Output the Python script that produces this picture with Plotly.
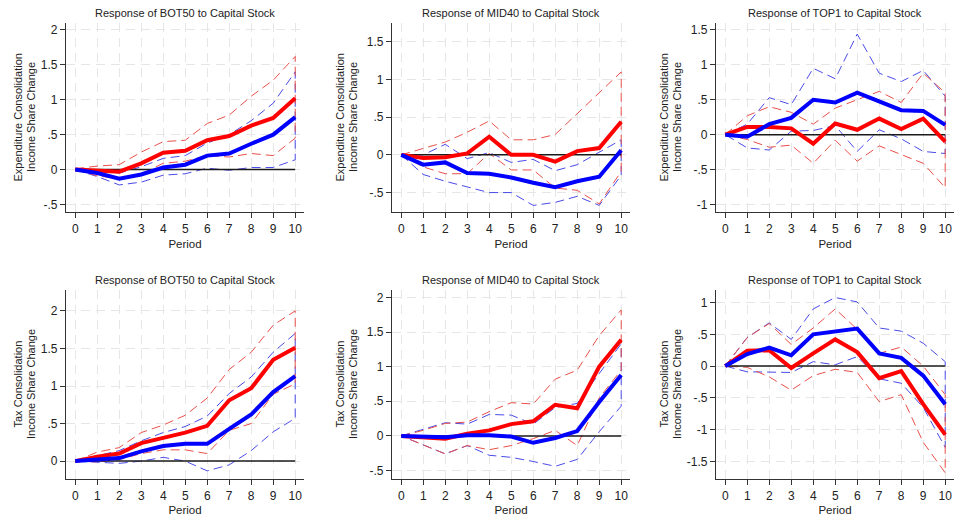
import plotly.graph_objects as go

W, H = 955, 516

periods = list(range(11))
xtick_labels = [str(p) for p in periods]

# ---- Expenditure consolidation ----
exp_bot50_red = [0, -0.02, -0.03, 0.09, 0.24, 0.27, 0.42, 0.48, 0.63, 0.74, 1.02]
exp_bot50_red_hi = [0.01, 0.05, 0.07, 0.25, 0.40, 0.42, 0.66, 0.78, 1.05, 1.28, 1.62]
exp_bot50_red_lo = [0, -0.09, -0.13, -0.06, 0.09, 0.12, 0.20, 0.18, 0.23, 0.20, 0.45]
exp_bot50_blue = [0, -0.05, -0.13, -0.07, 0.03, 0.07, 0.20, 0.23, 0.37, 0.50, 0.75]
exp_bot50_blue_hi = [0, -0.02, -0.05, 0.04, 0.16, 0.20, 0.38, 0.50, 0.70, 0.95, 1.40]
exp_bot50_blue_lo = [0, -0.10, -0.22, -0.18, -0.08, -0.06, 0.02, -0.01, 0.03, 0.03, 0.14]

exp_mid40_red = [0, -0.04, -0.03, 0.02, 0.24, 0.0, 0.0, -0.09, 0.05, 0.09, 0.44]
exp_mid40_red_hi = [0, 0.08, 0.17, 0.30, 0.45, 0.20, 0.20, 0.27, 0.55, 0.82, 1.10]
exp_mid40_red_lo = [0, -0.16, -0.25, -0.25, 0.02, -0.20, -0.20, -0.44, -0.47, -0.65, -0.22]
exp_mid40_blue = [0, -0.13, -0.10, -0.24, -0.25, -0.30, -0.37, -0.43, -0.35, -0.29, 0.06]
exp_mid40_blue_hi = [0, 0.0, 0.14, -0.05, 0.03, -0.10, -0.06, -0.21, -0.13, 0.03, 0.20]
exp_mid40_blue_lo = [0, -0.26, -0.35, -0.43, -0.50, -0.50, -0.67, -0.63, -0.55, -0.67, -0.27]

exp_top1_red = [0, 0.11, 0.11, 0.09, -0.13, 0.16, 0.07, 0.23, 0.08, 0.23, -0.10]
exp_top1_red_hi = [0, 0.27, 0.40, 0.32, 0.15, 0.38, 0.50, 0.62, 0.46, 0.88, 0.60]
exp_top1_red_lo = [0, -0.07, -0.18, -0.15, -0.41, -0.08, -0.38, -0.16, -0.29, -0.41, -0.76]
exp_top1_blue = [0, -0.03, 0.15, 0.24, 0.50, 0.46, 0.60, 0.48, 0.35, 0.34, 0.14]
exp_top1_blue_hi = [0, 0.15, 0.53, 0.43, 0.95, 0.80, 1.44, 0.88, 0.76, 0.92, 0.55]
exp_top1_blue_lo = [0, -0.19, -0.22, 0.05, 0.06, 0.13, -0.24, 0.07, -0.06, -0.24, -0.27]

# ---- Tax consolidation ----
tax_bot50_red = [0, 0.06, 0.10, 0.24, 0.31, 0.38, 0.47, 0.81, 0.97, 1.35, 1.51]
tax_bot50_red_hi = [0, 0.12, 0.18, 0.38, 0.48, 0.61, 0.84, 1.22, 1.45, 1.81, 2.00]
tax_bot50_red_lo = [0, -0.01, 0.02, 0.10, 0.15, 0.15, 0.10, 0.41, 0.50, 0.89, 1.03]
tax_bot50_blue = [0, 0.02, 0.04, 0.13, 0.20, 0.23, 0.23, 0.43, 0.62, 0.92, 1.13]
tax_bot50_blue_hi = [0, 0.07, 0.14, 0.27, 0.38, 0.46, 0.60, 0.90, 1.12, 1.45, 1.70]
tax_bot50_blue_lo = [0, -0.02, -0.03, 0.0, 0.05, 0.0, -0.13, -0.05, 0.14, 0.39, 0.57]

tax_mid40_red = [0, -0.02, -0.04, 0.03, 0.08, 0.17, 0.21, 0.45, 0.40, 1.00, 1.39]
tax_mid40_red_hi = [0, 0.08, 0.18, 0.20, 0.35, 0.48, 0.46, 0.82, 0.95, 1.45, 1.82]
tax_mid40_red_lo = [0, -0.13, -0.26, -0.14, -0.20, -0.14, -0.04, 0.08, -0.14, 0.55, 0.95]
tax_mid40_blue = [0, -0.01, -0.02, 0.01, 0.01, -0.01, -0.10, -0.03, 0.07, 0.49, 0.88]
tax_mid40_blue_hi = [0, 0.10, 0.19, 0.17, 0.31, 0.30, 0.17, 0.41, 0.47, 0.90, 1.33]
tax_mid40_blue_lo = [0, -0.13, -0.26, -0.14, -0.28, -0.31, -0.37, -0.44, -0.34, 0.06, 0.43]

tax_top1_red = [0, 0.24, 0.25, -0.03, 0.20, 0.42, 0.22, -0.19, -0.08, -0.60, -1.08]
tax_top1_red_hi = [0, 0.45, 0.67, 0.34, 0.60, 0.90, 0.58, 0.20, 0.30, 0.0, -0.45]
tax_top1_red_lo = [0, -0.02, -0.17, -0.38, -0.15, -0.05, -0.10, -0.56, -0.45, -1.20, -1.68]
tax_top1_blue = [0, 0.19, 0.29, 0.17, 0.50, 0.55, 0.59, 0.20, 0.13, -0.15, -0.60]
tax_top1_blue_hi = [0, 0.45, 0.68, 0.42, 0.90, 1.08, 1.01, 0.60, 0.55, 0.36, 0.07]
tax_top1_blue_lo = [0, -0.09, -0.09, -0.10, 0.07, 0.02, 0.15, -0.20, -0.27, -0.65, -1.28]

titles = ["Response of BOT50 to Capital Stock",
          "Response of MID40 to Capital Stock",
          "Response of TOP1 to Capital Stock"] * 2
ytitle_top = ["Expenditure Consolidation"] * 3 + ["Tax Consolidation"] * 3
ytitle_bottom = "Income Share Change"

ytick_sets = [
    [-0.5, 0, 0.5, 1, 1.5, 2],
    [-0.5, 0, 0.5, 1, 1.5],
    [-1, -0.5, 0, 0.5, 1, 1.5],
    [0, 0.5, 1, 1.5, 2],
    [-0.5, 0, 0.5, 1, 1.5, 2],
    [-1.5, -1, -0.5, 0, 0.5, 1],
]
yranges = [[-0.61, 2.1], [-0.76, 1.75], [-1.11, 1.6],
           [-0.24, 2.28], [-0.625, 2.11], [-1.78, 1.2]]

panels = [
    (exp_bot50_red, exp_bot50_red_hi, exp_bot50_red_lo, exp_bot50_blue, exp_bot50_blue_hi, exp_bot50_blue_lo),
    (exp_mid40_red, exp_mid40_red_hi, exp_mid40_red_lo, exp_mid40_blue, exp_mid40_blue_hi, exp_mid40_blue_lo),
    (exp_top1_red, exp_top1_red_hi, exp_top1_red_lo, exp_top1_blue, exp_top1_blue_hi, exp_top1_blue_lo),
    (tax_bot50_red, tax_bot50_red_hi, tax_bot50_red_lo, tax_bot50_blue, tax_bot50_blue_hi, tax_bot50_blue_lo),
    (tax_mid40_red, tax_mid40_red_hi, tax_mid40_red_lo, tax_mid40_blue, tax_mid40_blue_hi, tax_mid40_blue_lo),
    (tax_top1_red, tax_top1_red_hi, tax_top1_red_lo, tax_top1_blue, tax_top1_blue_hi, tax_top1_blue_lo),
]

# plot-area boxes in pixels: (left, right, top, bottom)
col_x = [(66, 304), (392, 630), (716, 954)]
row_y = [(23, 213), (291, 481)]
ytitle_x = [(18, 30.5), (340, 352.5), (664, 676.5)]


def fmt(v):
    s = "%g" % v
    if s.startswith("0."):
        s = s[1:]
    elif s.startswith("-0."):
        s = "-" + s[2:]
    return s


RED = "#ff0000"
BLUE = "#0000ff"
RED_CI = "#e8504a"
BLUE_CI = "#4a4ae8"
FONT = "Arial, Liberation Sans, Helvetica, sans-serif"
TXT = "#222"

fig = go.Figure()
annotations = []
layout_axes = {}

for i, (red, red_hi, red_lo, blue, blue_hi, blue_lo) in enumerate(panels):
    r, c = divmod(i, 3)
    x0, x1 = col_x[c]
    yt, yb = row_y[r]
    n = i + 1
    xa = "x" if n == 1 else f"x{n}"
    ya = "y" if n == 1 else f"y{n}"
    xkey = "xaxis" if n == 1 else f"xaxis{n}"
    ykey = "yaxis" if n == 1 else f"yaxis{n}"

    # confidence bands drawn as one closed outline (upper out, lower back)
    band_x = periods + periods[::-1]
    for hi, lo, col in ((blue_hi, blue_lo, BLUE_CI), (red_hi, red_lo, RED_CI)):
        fig.add_trace(go.Scatter(
            x=band_x, y=hi + lo[::-1], mode="lines", xaxis=xa, yaxis=ya,
            line=dict(color=col, width=1, dash="9px,5px"),
            hoverinfo="skip", showlegend=False))

    # zero reference line
    fig.add_trace(go.Scatter(
        x=[periods[0], periods[-1]], y=[0, 0], mode="lines", xaxis=xa, yaxis=ya,
        line=dict(color="#1a1a1a", width=1.5), hoverinfo="skip", showlegend=False))

    fig.add_trace(go.Scatter(x=periods, y=red, mode="lines", xaxis=xa, yaxis=ya,
                             line=dict(color=RED, width=4), showlegend=False))
    fig.add_trace(go.Scatter(x=periods, y=blue, mode="lines", xaxis=xa, yaxis=ya,
                             line=dict(color=BLUE, width=4), showlegend=False))

    layout_axes[xkey] = dict(
        domain=[x0 / W, x1 / W], anchor=ya, range=[-0.42, 10.4],
        tickvals=periods, ticktext=xtick_labels, ticks="outside", ticklen=5,
        tickcolor="#333", tickfont=dict(family=FONT, size=12, color=TXT),
        showline=True, linecolor="#333", linewidth=1.2,
        showgrid=True, gridcolor="#e6e6e6", griddash="9px,6px", gridwidth=1,
        zeroline=False, fixedrange=True,
        title=dict(text="Period", font=dict(family=FONT, size=11.5, color=TXT), standoff=5),
    )
    yticks = ytick_sets[i]
    layout_axes[ykey] = dict(
        domain=[1 - yb / H, 1 - yt / H], anchor=xa, range=yranges[i],
        tickvals=yticks, ticktext=[fmt(v) for v in yticks], ticks="outside", ticklen=5,
        tickcolor="#333", tickfont=dict(family=FONT, size=12, color=TXT),
        showline=True, linecolor="#333", linewidth=1.2,
        showgrid=True, gridcolor="#e6e6e6", griddash="9px,6px", gridwidth=1,
        zeroline=False, fixedrange=True,
    )

    annotations.append(dict(
        x=(x0 + x1) / 2 / W, y=1 - (r * 268 + 13) / H, xref="paper", yref="paper",
        text=titles[i], showarrow=False, xanchor="center", yanchor="middle",
        font=dict(family=FONT, size=11, color=TXT)))
    for txt, px in ((ytitle_top[i], ytitle_x[c][0]), (ytitle_bottom, ytitle_x[c][1])):
        annotations.append(dict(
            x=px / W, y=1 - (yt + yb) / 2 / H, xref="paper", yref="paper",
            text=txt, showarrow=False, textangle=-90, xanchor="center", yanchor="middle",
            font=dict(family=FONT, size=11, color=TXT)))

fig.update_layout(
    width=W, height=H, margin=dict(l=0, r=0, t=0, b=0),
    paper_bgcolor="white", plot_bgcolor="white",
    annotations=annotations, **layout_axes)

fig.write_html("out.html", config={"displayModeBar": False})
